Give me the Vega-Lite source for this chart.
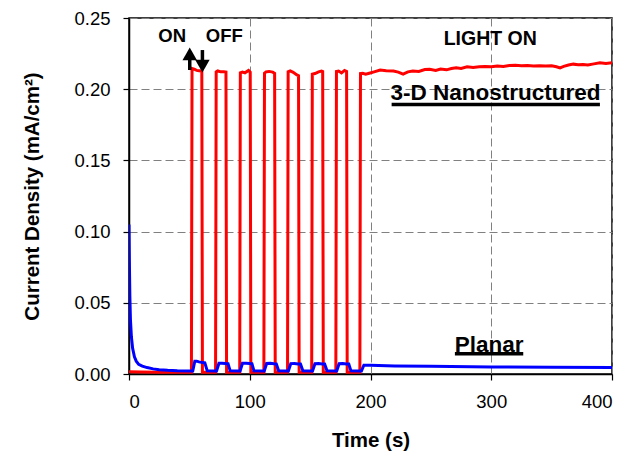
{
  "$schema": "https://vega.github.io/schema/vega-lite/v6.json",
  "width": 483,
  "height": 356,
  "autosize": {"type": "none"},
  "padding": {"left": 129, "top": 18, "right": 28, "bottom": 86},
  "config": {
    "font": "Liberation Sans",
    "view": {"stroke": "black", "strokeWidth": 1.5},
    "axis": {
      "domainColor": "black", "domainWidth": 1.5,
      "tickColor": "black", "tickSize": 6, "tickWidth": 1.2,
      "gridColor": "#808080", "gridDash": [8, 4], "gridWidth": 1,
      "labelFont": "Liberation Sans", "labelFontSize": 18.5, "labelColor": "black",
      "titleFont": "Liberation Sans", "titleFontSize": 20.5, "titleFontWeight": "bold", "titleColor": "black"
    }
  },
  "datasets": {
    "nano": [
      {"t": 0, "j": 0.0015}, {"t": 10, "j": 0.0014}, {"t": 25, "j": 0.0013}, {"t": 40, "j": 0.0012},
      {"t": 51.7, "j": 0.0012}, {"t": 52.2, "j": 0.2145}, {"t": 54, "j": 0.214}, {"t": 56, "j": 0.2132}, {"t": 58, "j": 0.213}, {"t": 60.3, "j": 0.2128}, {"t": 60.8, "j": 0.0012},
      {"t": 71.7, "j": 0.0012}, {"t": 72.2, "j": 0.2122}, {"t": 73.5, "j": 0.2128}, {"t": 76, "j": 0.2122}, {"t": 78.5, "j": 0.2122}, {"t": 80.3, "j": 0.212}, {"t": 80.8, "j": 0.0012},
      {"t": 91.7, "j": 0.0012}, {"t": 92.2, "j": 0.2115}, {"t": 94, "j": 0.212}, {"t": 96, "j": 0.2115}, {"t": 99, "j": 0.2132}, {"t": 100.4, "j": 0.212}, {"t": 100.9, "j": 0.0012},
      {"t": 111.7, "j": 0.0012}, {"t": 112.2, "j": 0.2112}, {"t": 113.5, "j": 0.2122}, {"t": 116, "j": 0.2125}, {"t": 119, "j": 0.212}, {"t": 120.6, "j": 0.2112}, {"t": 121.1, "j": 0.0012},
      {"t": 131.3, "j": 0.0012}, {"t": 131.8, "j": 0.2122}, {"t": 133.5, "j": 0.2128}, {"t": 136, "j": 0.2118}, {"t": 139, "j": 0.21}, {"t": 140.4, "j": 0.2095}, {"t": 140.9, "j": 0.0012},
      {"t": 151.3, "j": 0.0012}, {"t": 151.8, "j": 0.2105}, {"t": 154, "j": 0.211}, {"t": 157, "j": 0.2122}, {"t": 159.5, "j": 0.2128}, {"t": 160.4, "j": 0.2125}, {"t": 160.9, "j": 0.0012},
      {"t": 171.3, "j": 0.0012}, {"t": 171.8, "j": 0.2125}, {"t": 173.5, "j": 0.2128}, {"t": 176, "j": 0.2115}, {"t": 178.5, "j": 0.2132}, {"t": 180.2, "j": 0.2125}, {"t": 180.7, "j": 0.0012},
      {"t": 191.2, "j": 0.0012}, {"t": 191.7, "j": 0.211}, {"t": 193.5, "j": 0.2112}, {"t": 196, "j": 0.2105}, {"t": 199, "j": 0.2112}, {"t": 203, "j": 0.2122}, {"t": 208, "j": 0.2135},
      {"t": 213, "j": 0.213}, {"t": 219, "j": 0.2128}, {"t": 223, "j": 0.212}, {"t": 227, "j": 0.2106}, {"t": 231, "j": 0.2122}, {"t": 235, "j": 0.2128}, {"t": 240, "j": 0.2125},
      {"t": 245, "j": 0.2138}, {"t": 249, "j": 0.214}, {"t": 254, "j": 0.2132}, {"t": 258, "j": 0.2142}, {"t": 263, "j": 0.2136}, {"t": 267, "j": 0.2145}, {"t": 271, "j": 0.215},
      {"t": 275, "j": 0.2146}, {"t": 280, "j": 0.2157}, {"t": 285, "j": 0.2152}, {"t": 290, "j": 0.2157}, {"t": 295, "j": 0.216}, {"t": 300, "j": 0.2158}, {"t": 305, "j": 0.2163},
      {"t": 310, "j": 0.216}, {"t": 315, "j": 0.2166}, {"t": 320, "j": 0.2168}, {"t": 325, "j": 0.2164}, {"t": 330, "j": 0.2166}, {"t": 335, "j": 0.2163}, {"t": 340, "j": 0.2165},
      {"t": 345, "j": 0.2163}, {"t": 350, "j": 0.2165}, {"t": 354, "j": 0.2158}, {"t": 357, "j": 0.215}, {"t": 360, "j": 0.216}, {"t": 364, "j": 0.217}, {"t": 368, "j": 0.2176},
      {"t": 372, "j": 0.2172}, {"t": 376, "j": 0.2174}, {"t": 380, "j": 0.217}, {"t": 385, "j": 0.2178}, {"t": 390, "j": 0.2186}, {"t": 395, "j": 0.218}, {"t": 400, "j": 0.2186}
    ],
    "planar": [
      {"t": 0, "j": 0.105}, {"t": 0.3, "j": 0.08}, {"t": 0.7, "j": 0.055}, {"t": 1.2, "j": 0.038}, {"t": 2, "j": 0.026}, {"t": 3, "j": 0.018}, {"t": 4.5, "j": 0.012},
      {"t": 6, "j": 0.009}, {"t": 8, "j": 0.0068}, {"t": 11, "j": 0.0055}, {"t": 15, "j": 0.0045}, {"t": 20, "j": 0.0036}, {"t": 25, "j": 0.003}, {"t": 32, "j": 0.0026}, {"t": 40, "j": 0.0023},
      {"t": 52.8, "j": 0.0021}, {"t": 54.5, "j": 0.009}, {"t": 56, "j": 0.009}, {"t": 58, "j": 0.0085}, {"t": 61, "j": 0.008}, {"t": 62.8, "j": 0.0078}, {"t": 64.8, "j": 0.0022},
      {"t": 72.5, "j": 0.0021}, {"t": 74.5, "j": 0.0075}, {"t": 77, "j": 0.0076}, {"t": 80, "j": 0.0073}, {"t": 82, "j": 0.0072}, {"t": 83.8, "j": 0.0022},
      {"t": 92, "j": 0.0021}, {"t": 94, "j": 0.0075}, {"t": 97, "j": 0.0076}, {"t": 100, "j": 0.0073}, {"t": 101.8, "j": 0.0072}, {"t": 103.5, "j": 0.0022},
      {"t": 112, "j": 0.0021}, {"t": 114, "j": 0.0074}, {"t": 117, "j": 0.0075}, {"t": 120, "j": 0.0072}, {"t": 122, "j": 0.0071}, {"t": 124, "j": 0.0022},
      {"t": 132, "j": 0.0021}, {"t": 134, "j": 0.0073}, {"t": 137, "j": 0.0074}, {"t": 140, "j": 0.0071}, {"t": 142, "j": 0.007}, {"t": 144, "j": 0.0022},
      {"t": 152, "j": 0.0021}, {"t": 154, "j": 0.0072}, {"t": 157, "j": 0.0073}, {"t": 160, "j": 0.007}, {"t": 162, "j": 0.007}, {"t": 164, "j": 0.0022},
      {"t": 172, "j": 0.0021}, {"t": 174, "j": 0.0072}, {"t": 177, "j": 0.0073}, {"t": 180, "j": 0.007}, {"t": 182, "j": 0.007}, {"t": 183.8, "j": 0.0022},
      {"t": 192.5, "j": 0.0021}, {"t": 194.5, "j": 0.0062}, {"t": 200, "j": 0.0061}, {"t": 220, "j": 0.0057}, {"t": 250, "j": 0.0054}, {"t": 300, "j": 0.005}, {"t": 350, "j": 0.0047}, {"t": 400, "j": 0.0045}
    ],
    "labels": [
      {"t": 35.8, "j": 0.2334, "text": "ON", "size": 18.5},
      {"t": 78.9, "j": 0.2334, "text": "OFF", "size": 18.5},
      {"t": 299.2, "j": 0.231, "text": "LIGHT ON", "size": 19.5},
      {"t": 303.6, "j": 0.1924, "text": "3-D Nanostructured", "size": 22.5},
      {"t": 298.2, "j": 0.0157, "text": "Planar", "size": 22.5}
    ],
    "underlines": [
      {"t1": 217.5, "t2": 390, "j": 0.1893},
      {"t1": 269.9, "t2": 326.5, "j": 0.0143}
    ],
    "arrows": [
      {"t": 50.3, "j1": 0.2135, "j2": 0.225, "head": 0.2248, "shape": "triangle-up"},
      {"t": 60.8, "j1": 0.2275, "j2": 0.216, "head": 0.2162, "shape": "triangle-down"}
    ]
  },
  "layer": [
    {
      "data": {"name": "nano"},
      "mark": {"type": "line", "color": "#FF0000", "strokeWidth": 3, "clip": true},
      "encoding": {
        "x": {"field": "t", "type": "quantitative", "scale": {"domain": [0, 400], "nice": false},
          "axis": {"values": [0, 100, 200, 300, 400], "title": "Time (s)", "labelPadding": 12, "titleX": 241.5, "titleY": 66, "titleBaseline": "middle"}},
        "y": {"field": "j", "type": "quantitative", "scale": {"domain": [0, 0.25], "nice": false},
          "axis": {"values": [0, 0.05, 0.1, 0.15, 0.2, 0.25], "format": ".2f", "title": "Current Density (mA/cm²)", "labelPadding": 13, "titleX": -97, "titleY": 178, "titleBaseline": "middle"}}
      }
    },
    {
      "data": {"name": "planar"},
      "mark": {"type": "line", "color": "#0000FF", "strokeWidth": 3, "clip": true},
      "encoding": {
        "x": {"field": "t", "type": "quantitative"},
        "y": {"field": "j", "type": "quantitative"}
      }
    },
    {
      "data": {"name": "labels"},
      "mark": {"type": "text", "fontWeight": "bold", "color": "black", "align": "center", "baseline": "alphabetic"},
      "encoding": {
        "x": {"field": "t", "type": "quantitative"},
        "y": {"field": "j", "type": "quantitative"},
        "text": {"field": "text"},
        "size": {"field": "size", "type": "quantitative", "scale": null}
      }
    },
    {
      "data": {"name": "underlines"},
      "mark": {"type": "rule", "color": "black", "strokeWidth": 3.5},
      "encoding": {
        "x": {"field": "t1", "type": "quantitative"},
        "x2": {"field": "t2"},
        "y": {"field": "j", "type": "quantitative"}
      }
    },
    {
      "data": {"name": "arrows"},
      "mark": {"type": "rule", "color": "black", "strokeWidth": 3.5},
      "encoding": {
        "x": {"field": "t", "type": "quantitative"},
        "y": {"field": "j1", "type": "quantitative"},
        "y2": {"field": "j2"}
      }
    },
    {
      "data": {"name": "arrows"},
      "mark": {"type": "point", "filled": true, "color": "black", "opacity": 1, "size": 210},
      "encoding": {
        "x": {"field": "t", "type": "quantitative"},
        "y": {"field": "head", "type": "quantitative"},
        "shape": {"field": "shape", "type": "nominal", "scale": null}
      }
    }
  ]
}
